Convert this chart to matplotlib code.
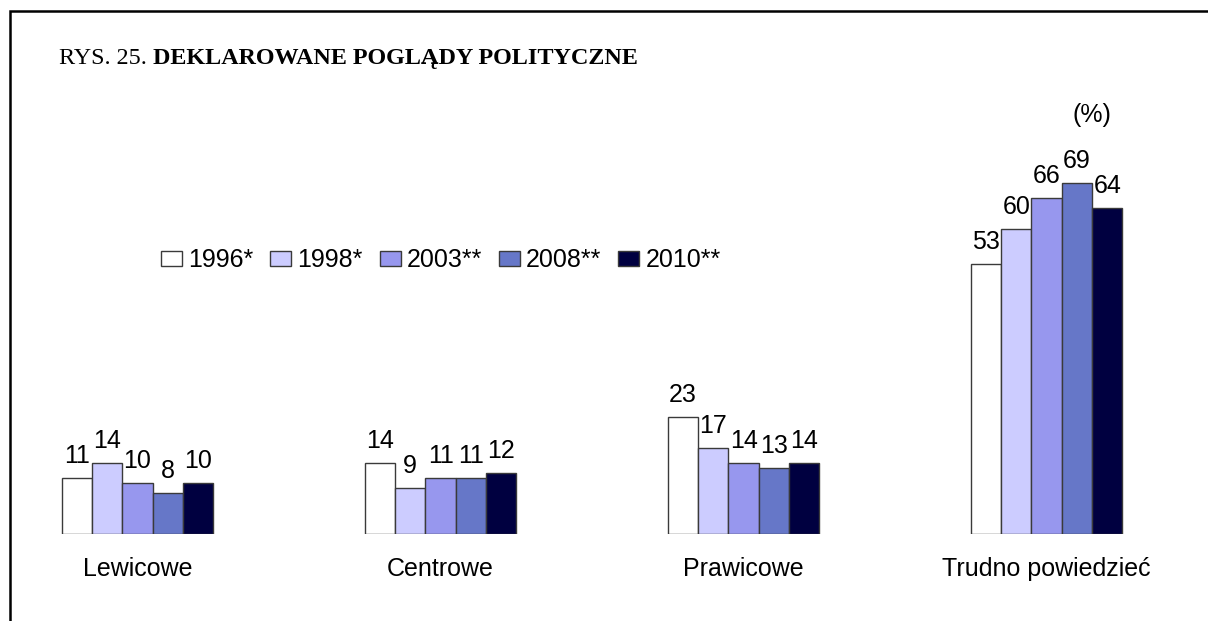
import matplotlib
matplotlib.use("Agg")
import matplotlib.pyplot as plt
from matplotlib.lines import Line2D
from matplotlib.patches import Patch
import numpy as np

categories = ["Lewicowe", "Centrowe", "Prawicowe", "Trudno powiedzieć"]
series_names = ["1996*", "1998*", "2003**", "2008**", "2010**"]
values = {
    "1996*": [11, 14, 23, 53],
    "1998*": [14, 9, 17, 60],
    "2003**": [10, 11, 14, 66],
    "2008**": [8, 11, 13, 69],
    "2010**": [10, 12, 14, 64],
}
colors = ["#FFFFFF", "#CCCCFF", "#9797EE", "#6677C8", "#000040"]

W, H = 1208, 621
fig = plt.figure(figsize=(W / 100, H / 100), dpi=100)
fig.patch.set_facecolor("white")

# axes placement in pixels
x_left_px, x_right_px = 31.5, 1152.7
y_top_px, y_bot_px = 127.0, 534.0
ax = fig.add_axes([x_left_px / W, (H - y_bot_px) / H,
                   (x_right_px - x_left_px) / W, (y_bot_px - y_top_px) / H])
ax.set_xlim(-0.35, 3.35)
ax.set_ylim(0, 80)
ax.axis("off")

font = "Liberation Sans"
fs = 18
x = np.arange(len(categories))
bw = 0.1
for i, name in enumerate(series_names):
    pos = x - 2 * bw + i * bw
    ax.bar(pos, values[name], width=bw, color=colors[i],
           edgecolor="#3a3a3a", linewidth=1.0, label=name)
    for xp, v in zip(pos, values[name]):
        ax.annotate(str(v), (xp, v), xytext=(0, 10.8), textcoords="offset points",
                    ha="center", va="baseline", fontsize=fs, family=font)

for xi, c in zip(x, categories):
    ax.annotate(c, (xi, 0), xytext=(0, -30.2), textcoords="offset points",
                ha="center", va="baseline", fontsize=fs, family=font)

# legend
handles = [Patch(facecolor=colors[i], edgecolor="#3a3a3a", linewidth=1.0)
           for i in range(len(series_names))]
fig.legend(handles, series_names, loc="center left",
           bbox_to_anchor=(161 / W, 1 - 260 / H), ncol=5, frameon=False,
           prop={"family": font, "size": fs}, handlelength=0.84, handleheight=0.55,
           handletextpad=0.24, columnspacing=0.68, borderpad=0, borderaxespad=0)

# "(%)"
fig.text(1092 / W, 1 - 122 / H, "(%)", ha="center", va="baseline",
         fontsize=fs, family=font)

# title
t1 = fig.text(59 / W, 1 - 64 / H, "RYS. 25. ", ha="left", va="baseline",
              fontsize=17.4, family="Liberation Serif")
fig.canvas.draw()
bb = t1.get_window_extent()
fig.text(bb.x1 / W, 1 - 64 / H, "DEKLAROWANE POGLĄDY POLITYCZNE", ha="left",
         va="baseline", fontsize=17.4, family="Liberation Serif", fontweight="bold")

# border (left and top)
fig.add_artist(Line2D([9.5 / W, 9.5 / W, 1.0], [0.0, 1 - 11.3 / H, 1 - 11.3 / H],
                      transform=fig.transFigure, color="black", linewidth=1.8,
                      solid_joinstyle="miter"))

fig.savefig("out.png", dpi=100, facecolor="white")
